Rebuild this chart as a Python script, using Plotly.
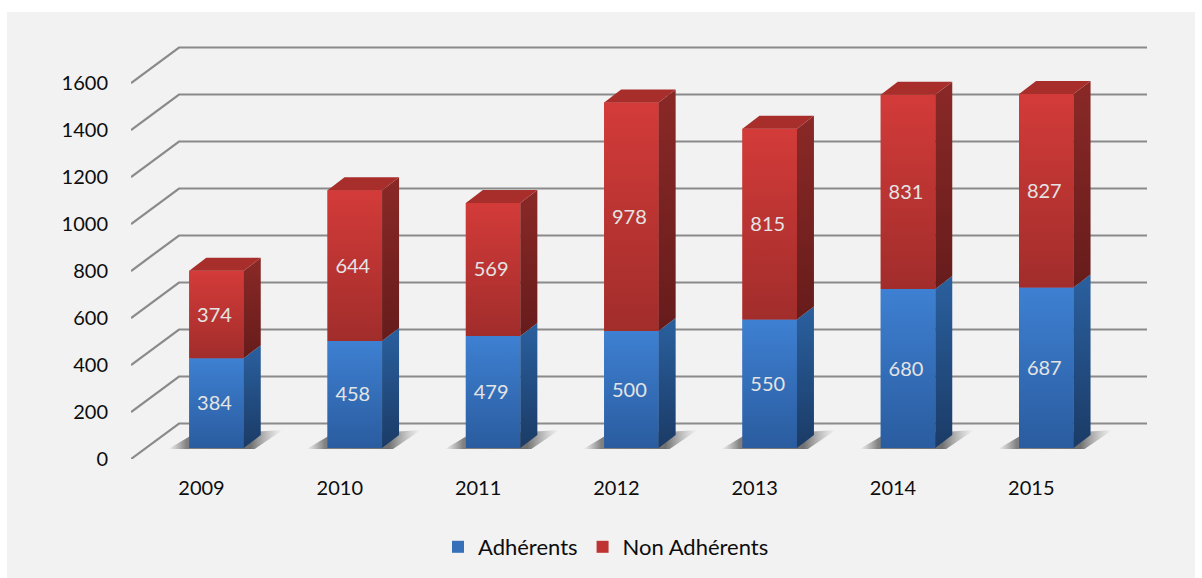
import plotly.graph_objects as go

# ---- data ----
years = ["2009", "2010", "2011", "2012", "2013", "2014", "2015"]
adherents = [384, 458, 479, 500, 550, 680, 687]
non_adherents = [374, 644, 569, 978, 815, 831, 827]
y_ticks = [0, 200, 400, 600, 800, 1000, 1200, 1400, 1600]

# ---- geometry of the pseudo-3D projection (pixels per unit and offsets) ----
W, H = 1202, 578
PX_L, PX_R, PX_T, PX_B = 131, 1150, 41, 459
PX_PER_CAT = 138.3
PX_PER_VAL = 0.235      # wall / tick scale
PX_PER_BAR = 0.2338     # bar scale, slightly smaller since bars stand in front of the wall
CAT0_PX = 201.5

def dx(px):
    return px / PX_PER_CAT

def dy(px):
    return px / PX_PER_VAL

def dy2(px):
    return px / PX_PER_BAR

xr = [dx(PX_L - CAT0_PX), dx(PX_R - CAT0_PX)]
yr = [0, dy(PX_B - PX_T)]
yr2 = [0, dy2(PX_B - PX_T)]

WALL_DX, WALL_DY = dx(48), dy(35.5)
BAR_SHIFT, BAR_BASE = dx(15), dy2(11)
BAR_W = dx(54.5)
DEPTH_X, DEPTH_Y = dx(17), dy2(13)
RIGHT_END = dx(1147 - CAT0_PX)

FONT = "Lato, Carlito, sans-serif"
TEXT = "#0d0d0d"
GRID = "#8a8a8a"
BLUE = dict(front=["#3e80d2", "#2a5c9f"], side=["#2a609f", "#1b3b66"])
RED = dict(front=["#d33b39", "#a12d2b"], side=["#8a2927", "#661c1b"], top="#a82e2c")

fig = go.Figure()

def poly(xs, ys, colors=None, solid=None, kind="vertical"):
    kw = dict(x=xs + xs[:1], y=ys + ys[:1], mode="lines", fill="toself", yaxis="y2",
              line=dict(width=0), hoverinfo="skip", showlegend=False)
    if colors:
        kw["fillgradient"] = dict(type=kind, colorscale=colors)
    else:
        kw["fillcolor"] = solid
    fig.add_trace(go.Scatter(**kw))

# gridlines: floor/wall diagonal + back-wall horizontal line
for v in y_ticks:
    fig.add_trace(go.Scatter(
        x=[xr[0], xr[0] + WALL_DX, RIGHT_END],
        y=[v, v + WALL_DY, v + WALL_DY],
        mode="lines", line=dict(color=GRID, width=2.2),
        hoverinfo="skip", showlegend=False, cliponaxis=False))

centers = [i + BAR_SHIFT for i in range(len(years))]

# front faces as real stacked bars (gradient faces are laid over them)
fig.add_trace(go.Bar(x=centers, y=adherents, base=[BAR_BASE] * len(years), width=BAR_W,
                     yaxis="y2", name="Adhérents",
                     marker=dict(color="#3570b8", line=dict(width=0)), hoverinfo="skip"))
fig.add_trace(go.Bar(x=centers, y=non_adherents,
                     base=[BAR_BASE + a for a in adherents], width=BAR_W,
                     yaxis="y2", name="Non Adhérents",
                     marker=dict(color="#bf3432", line=dict(width=0)), hoverinfo="skip"))

for i, c in enumerate(centers):
    l, r = c - BAR_W / 2, c + BAR_W / 2
    b0 = BAR_BASE
    b1 = b0 + adherents[i]
    b2 = b1 + non_adherents[i]
    # floor shadow
    poly([l - dx(21), l + dx(1), r + DEPTH_X + dx(22), r + dx(11)],
         [b0 - dy2(1), b0 + dy2(12), b0 + dy2(18), b0 - dy2(1)],
         colors=[[0, "rgba(120,120,120,0)"], [0.16, "rgba(100,100,100,0.8)"],
                 [0.72, "rgba(90,90,90,0.85)"], [1, "rgba(150,150,150,0)"]],
         kind="horizontal")
    for (lo, hi, pal) in ((b0, b1, BLUE), (b1, b2, RED)):
        # front
        poly([l, r, r, l], [lo, lo, hi, hi],
             colors=[[0, pal["front"][1]], [1, pal["front"][0]]])
        # side
        poly([r, r + DEPTH_X, r + DEPTH_X, r], [lo, lo + DEPTH_Y, hi + DEPTH_Y, hi],
             colors=[[0, pal["side"][1]], [1, pal["side"][0]]])
    # top cap
    poly([l, r, r + DEPTH_X, l + DEPTH_X], [b2, b2, b2 + DEPTH_Y, b2 + DEPTH_Y], solid=RED["top"])

# value labels
label_x = [c - dx(2) for c in centers]
label_drop = dy2(2)
fig.add_trace(go.Scatter(x=label_x, y=[BAR_BASE + a / 2 - label_drop for a in adherents],
                         text=[str(a) for a in adherents], mode="text", yaxis="y2",
                         textfont=dict(family=FONT, size=20, color="#e4e4e4"),
                         hoverinfo="skip", showlegend=False))
fig.add_trace(go.Scatter(x=label_x,
                         y=[BAR_BASE + a + n / 2 - label_drop for a, n in zip(adherents, non_adherents)],
                         text=[str(n) for n in non_adherents], mode="text", yaxis="y2",
                         textfont=dict(family=FONT, size=20, color="#e4e4e4"),
                         hoverinfo="skip", showlegend=False))

def paper_x(px):
    return (px - PX_L) / (PX_R - PX_L)

def paper_y(px):
    return (PX_B - px) / (PX_B - PX_T)

fig.update_layout(
    width=W, height=H,
    margin=dict(l=PX_L, r=W - PX_R, t=PX_T, b=H - PX_B, pad=0),
    paper_bgcolor="white", plot_bgcolor="rgba(0,0,0,0)",
    barmode="overlay",
    font=dict(family=FONT, size=20, color=TEXT),
    shapes=[dict(type="rect", xref="paper", yref="paper", layer="below",
                 x0=paper_x(7), x1=paper_x(1195), y0=paper_y(578), y1=paper_y(12),
                 fillcolor="#f2f2f2", line=dict(width=0))],
    xaxis=dict(range=xr, tickmode="array", tickvals=list(range(len(years))), ticktext=years,
               showgrid=False, zeroline=False, showline=False, ticks="outside", ticklen=11,
               tickcolor="rgba(0,0,0,0)", tickfont=dict(family=FONT, size=20, color=TEXT)),
    yaxis=dict(range=yr, tickmode="array", tickvals=y_ticks,
               showgrid=False, zeroline=False, showline=False, ticks="outside", ticklen=18,
               tickcolor="rgba(0,0,0,0)", tickfont=dict(family=FONT, size=20, color=TEXT)),
    yaxis2=dict(range=yr2, overlaying="y", visible=False),
    legend=dict(orientation="h", xref="container", yref="container",
                x=438 / W, xanchor="left", y=(H - 547) / H, yanchor="middle",
                itemwidth=30, bgcolor="rgba(0,0,0,0)",
                font=dict(family=FONT, size=22, color=TEXT)),
)

fig.write_html("out.html", config={"displayModeBar": False},
               post_script="document.body.style.margin='0';document.body.style.overflow='hidden';")
